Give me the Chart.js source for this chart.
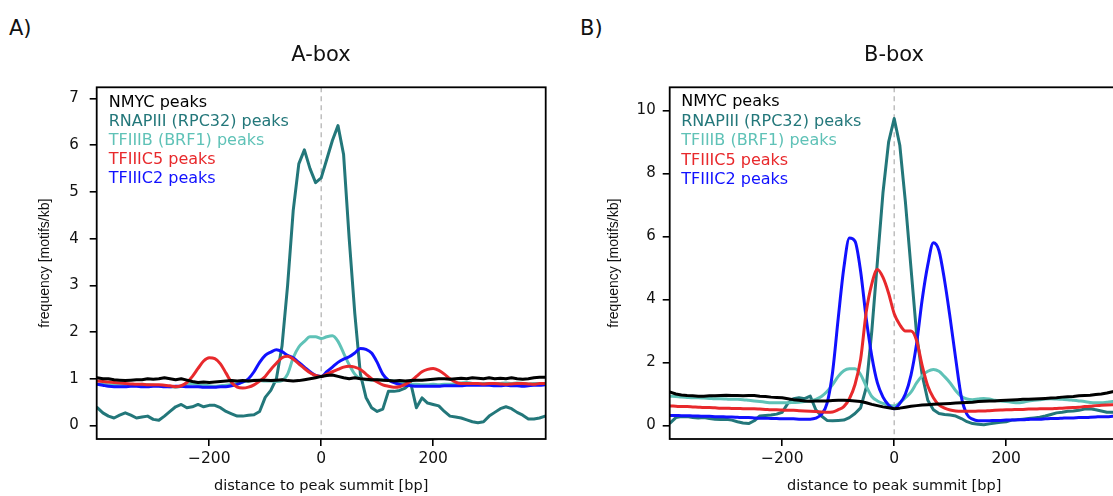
<!DOCTYPE html>
<html>
<head>
<meta charset="utf-8">
<script src="https://cdn.jsdelivr.net/npm/chart.js@4.4.1/dist/chart.umd.min.js"></script>
<style>
  html, body { margin: 0; padding: 0; background: #fff; overflow: hidden; width: 1113px; height: 496px; }
  .panel { position: absolute; top: 0; width: 642px; height: 496px; }
  .tag { position: absolute; font: 21px "DejaVu Sans", sans-serif; color: #111; line-height: 1; }
</style>
</head>
<body>
<div class="tag" style="left:9px;top:18px">A)</div>
<div class="tag" style="left:580px;top:18px">B)</div>
<div class="panel" style="left:0px"><canvas id="chartA" width="642" height="496"></canvas></div>
<div class="panel" style="left:573px"><canvas id="chartB" width="642" height="496"></canvas></div>

<script>
// distance to peak summit (bp), sampled every 10 bp
const positions = [
  -400,-390,-380,-370,-360,-350,-340,-330,-320,-310,-300,-290,-280,-270,-260,-250,-240,-230,-220,-210,
  -200,-190,-180,-170,-160,-150,-140,-130,-120,-110,-100,-90,-80,-70,-60,-50,-40,-30,-20,-10,
  0,10,20,30,40,50,60,70,80,90,100,110,120,130,140,150,160,170,180,190,
  200,210,220,230,240,250,260,270,280,290,300,310,320,330,340,350,360,370,380,390,400
];

const seriesNames = ['NMYC peaks', 'RNAPIII (RPC32) peaks', 'TFIIIB (BRF1) peaks', 'TFIIIC5 peaks', 'TFIIIC2 peaks'];
const seriesColors = ['#000000', '#23777a', '#5fc2b7', '#e8292c', '#1111ff'];

const xTicks = [-200, 0, 200];
const yTicksA = [0, 1, 2, 3, 4, 5, 6, 7];
const yTicksB = [0, 2, 4, 6, 8, 10];

// ---- A-box motif frequency (motifs/kb) ----
const nmycA = [
  1.02,1.00,1.00,0.98,0.97,0.96,0.97,0.98,0.98,1.00,0.99,1.00,1.02,1.00,0.98,1.00,0.97,0.94,0.92,0.93,
  0.92,0.93,0.94,0.95,0.96,0.95,0.96,0.95,0.96,0.97,0.97,0.96,0.97,0.98,0.96,0.95,0.96,0.98,1.00,1.02,
  1.05,1.07,1.08,1.05,1.02,1.00,1.02,1.00,0.99,0.98,0.98,0.97,0.96,0.95,0.96,0.95,0.96,0.97,0.97,0.98,
  0.99,1.00,1.00,0.99,1.00,1.01,1.00,1.02,1.01,1.00,1.02,1.00,1.01,1.00,1.02,1.00,0.99,1.00,1.02,1.03,1.03
];
const rnap3A = [
  0.38,0.27,0.20,0.16,0.22,0.27,0.22,0.16,0.18,0.20,0.13,0.11,0.20,0.30,0.40,0.45,0.38,0.40,0.45,0.40,
  0.43,0.43,0.38,0.30,0.25,0.20,0.20,0.22,0.23,0.30,0.60,0.75,1.00,1.70,3.00,4.60,5.60,5.90,5.50,5.20,
  5.30,5.70,6.10,6.42,5.80,4.00,2.40,1.10,0.60,0.38,0.30,0.35,0.73,0.73,0.75,0.80,0.90,0.38,0.59,0.48,
  0.45,0.42,0.30,0.20,0.18,0.16,0.12,0.08,0.06,0.08,0.20,0.28,0.36,0.40,0.36,0.28,0.22,0.14,0.14,0.16,0.20
];
const tf3bA = [
  0.88,0.88,0.87,0.87,0.88,0.87,0.86,0.87,0.88,0.87,0.86,0.85,0.84,0.83,0.82,0.84,0.88,0.90,0.88,0.86,
  0.85,0.84,0.85,0.86,0.88,0.90,0.93,0.95,0.97,0.96,0.95,0.95,0.94,0.96,1.10,1.45,1.68,1.80,1.90,1.90,
  1.86,1.90,1.92,1.80,1.55,1.30,1.10,1.00,0.98,0.97,0.98,0.98,0.97,0.95,0.92,0.90,0.88,0.88,0.87,0.87,
  0.88,0.87,0.88,0.88,0.90,0.91,0.92,0.90,0.89,0.90,0.90,0.89,0.90,0.91,0.90,0.91,0.90,0.89,0.90,0.90,0.90
];
const tf3c5A = [
  0.95,0.94,0.93,0.92,0.91,0.90,0.89,0.88,0.88,0.87,0.87,0.87,0.86,0.85,0.83,0.85,0.92,1.05,1.22,1.38,
  1.45,1.43,1.32,1.12,0.92,0.82,0.80,0.82,0.87,0.95,1.05,1.20,1.33,1.45,1.48,1.42,1.32,1.22,1.13,1.07,
  1.05,1.10,1.15,1.20,1.25,1.27,1.25,1.20,1.10,1.00,0.93,0.87,0.84,0.82,0.83,0.88,0.95,1.05,1.15,1.20,
  1.22,1.18,1.10,1.00,0.93,0.90,0.90,0.90,0.90,0.89,0.90,0.90,0.89,0.88,0.89,0.90,0.90,0.89,0.88,0.90,0.90
];
const tf3c2A = [
  0.88,0.86,0.84,0.83,0.83,0.83,0.84,0.84,0.83,0.83,0.84,0.84,0.83,0.83,0.84,0.84,0.83,0.83,0.83,0.82,
  0.82,0.82,0.83,0.83,0.85,0.88,0.93,1.00,1.15,1.35,1.50,1.57,1.62,1.58,1.50,1.45,1.35,1.25,1.15,1.07,
  1.05,1.15,1.25,1.35,1.42,1.47,1.55,1.65,1.63,1.55,1.35,1.10,0.97,0.92,0.88,0.86,0.85,0.84,0.84,0.84,
  0.84,0.84,0.85,0.85,0.85,0.85,0.86,0.86,0.86,0.86,0.86,0.85,0.85,0.86,0.85,0.85,0.84,0.85,0.86,0.86,0.87
];

// ---- B-box motif frequency (motifs/kb) ----
const nmycB = [
  1.06,1.00,0.97,0.95,0.94,0.93,0.93,0.94,0.94,0.95,0.96,0.95,0.95,0.94,0.95,0.95,0.93,0.92,0.90,0.89,
  0.88,0.85,0.82,0.80,0.78,0.77,0.78,0.78,0.78,0.79,0.80,0.80,0.79,0.78,0.76,0.72,0.67,0.63,0.59,0.56,
  0.53,0.55,0.58,0.61,0.63,0.65,0.66,0.67,0.68,0.69,0.70,0.71,0.72,0.73,0.74,0.76,0.77,0.78,0.78,0.79,
  0.80,0.81,0.82,0.83,0.83,0.84,0.85,0.86,0.87,0.88,0.90,0.91,0.92,0.94,0.95,0.96,0.98,1.00,1.03,1.07,1.10
];
const rnap3B = [
  0.08,0.25,0.28,0.28,0.25,0.24,0.25,0.22,0.20,0.19,0.20,0.17,0.12,0.08,0.06,0.15,0.30,0.32,0.33,0.36,
  0.42,0.70,0.85,0.88,0.85,0.93,0.50,0.30,0.16,0.15,0.16,0.17,0.25,0.38,0.56,1.20,3.00,5.20,7.40,9.00,
  9.75,8.90,7.10,5.00,2.90,1.60,0.80,0.50,0.38,0.35,0.33,0.30,0.22,0.12,0.06,0.04,0.02,0.05,0.08,0.10,
  0.12,0.17,0.18,0.20,0.22,0.24,0.26,0.30,0.35,0.40,0.42,0.45,0.46,0.48,0.52,0.53,0.50,0.46,0.42,0.42,0.40
];
const tf3bB = [
  0.93,0.92,0.90,0.89,0.88,0.88,0.87,0.86,0.85,0.85,0.84,0.83,0.83,0.82,0.80,0.78,0.76,0.74,0.72,0.72,
  0.72,0.72,0.73,0.74,0.76,0.78,0.83,0.92,1.08,1.30,1.56,1.74,1.80,1.80,1.62,1.25,0.92,0.78,0.70,0.64,
  0.62,0.72,0.88,1.06,1.35,1.58,1.72,1.78,1.72,1.55,1.35,1.10,0.92,0.84,0.82,0.84,0.86,0.84,0.80,0.78,
  0.76,0.74,0.72,0.74,0.78,0.80,0.82,0.84,0.85,0.84,0.83,0.82,0.80,0.78,0.76,0.73,0.72,0.72,0.74,0.76,0.77
];
const tf3c5B = [
  0.62,0.61,0.60,0.60,0.59,0.58,0.57,0.57,0.56,0.55,0.55,0.54,0.54,0.53,0.53,0.53,0.52,0.51,0.50,0.50,
  0.49,0.48,0.48,0.47,0.46,0.45,0.44,0.43,0.42,0.43,0.50,0.60,0.85,1.30,2.10,3.60,4.50,4.95,4.70,4.20,
  3.55,3.20,3.00,3.00,2.70,1.90,1.25,0.88,0.65,0.55,0.49,0.46,0.45,0.45,0.45,0.46,0.46,0.47,0.48,0.49,
  0.50,0.50,0.51,0.51,0.52,0.52,0.53,0.53,0.53,0.54,0.55,0.56,0.57,0.58,0.60,0.61,0.63,0.64,0.65,0.66,0.67
];
const tf3c2B = [
  0.32,0.32,0.31,0.31,0.30,0.30,0.29,0.29,0.28,0.28,0.27,0.27,0.26,0.25,0.25,0.24,0.23,0.23,0.22,0.22,
  0.21,0.21,0.21,0.20,0.20,0.20,0.23,0.35,0.70,1.70,3.40,5.00,5.95,5.85,4.90,3.40,2.20,1.35,0.90,0.65,
  0.53,0.70,1.00,1.60,2.60,4.00,5.10,5.80,5.55,4.60,3.40,2.10,0.90,0.35,0.20,0.15,0.15,0.15,0.16,0.16,
  0.17,0.17,0.18,0.18,0.19,0.20,0.20,0.21,0.22,0.22,0.23,0.24,0.24,0.25,0.25,0.26,0.27,0.28,0.28,0.29,0.30
];

const WIDE = '"DejaVu Sans", sans-serif';
const NARROW = '"Liberation Sans", Arial, sans-serif';
const smoothSeries = [false, false, true, true, true];
const drawOrder = [0, 4, 3, 1, 2];

function buildDatasets(seriesValues) {
  return seriesValues.map((vals, i) => ({
    label: seriesNames[i],
    data: positions.map((x, k) => ({ x: x, y: vals[k] })),
    borderColor: seriesColors[i],
    backgroundColor: seriesColors[i],
    borderWidth: 3,
    pointRadius: 0,
    fill: false,
    tension: smoothSeries[i] ? 0.4 : 0,
    cubicInterpolationMode: smoothSeries[i] ? 'monotone' : 'default',
    borderJoinStyle: 'round',
    borderCapStyle: 'round',
    order: drawOrder[i]
  }));
}

// dashed line at the peak summit, plot frame and coloured text legend
const summitLine = {
  id: 'summitLine',
  beforeDatasetsDraw(chart) {
    const { ctx, chartArea, scales } = chart;
    const x = scales.x.getPixelForValue(0);
    ctx.save();
    ctx.strokeStyle = '#b4b4b4';
    ctx.lineWidth = 1.3;
    ctx.setLineDash([5, 4]);
    ctx.beginPath();
    ctx.moveTo(x, chartArea.top);
    ctx.lineTo(x, chartArea.bottom);
    ctx.stroke();
    ctx.restore();
  }
};
const plotFrame = {
  id: 'plotFrame',
  afterDatasetsDraw(chart) {
    const { ctx, chartArea } = chart;
    ctx.save();
    ctx.strokeStyle = '#000';
    ctx.lineWidth = 1.8;
    ctx.strokeRect(chartArea.left, chartArea.top, chartArea.right - chartArea.left, chartArea.bottom - chartArea.top);
    ctx.restore();
  }
};
const textLegend = {
  id: 'textLegend',
  afterDatasetsDraw(chart, args, opts) {
    const { ctx, chartArea } = chart;
    ctx.save();
    ctx.font = opts.fontSize + 'px ' + WIDE;
    ctx.textBaseline = 'middle';
    ctx.textAlign = 'left';
    chart.data.datasets.forEach((ds, i) => {
      ctx.fillStyle = ds.borderColor;
      ctx.fillText(ds.label, chartArea.left + opts.dx, chartArea.top + opts.dy + i * opts.step);
    });
    ctx.restore();
  }
};

function makeChart(id, title, seriesValues, yMin, yMax, yTicks, tickPad, yTitleOffset, legendOpts) {
  return new Chart(document.getElementById(id), {
    type: 'line',
    data: { datasets: buildDatasets(seriesValues) },
    options: {
      responsive: false,
      animation: false,
      devicePixelRatio: 1,
      layout: { padding: 0 },
      plugins: {
        legend: { display: false },
        tooltip: { enabled: false },
        title: {
          display: true,
          text: title,
          color: '#111',
          font: { family: WIDE, size: 21, weight: 'normal', lineHeight: 1.2 },
          padding: { top: 42.6, bottom: 19.5 }
        },
        textLegend: legendOpts
      },
      scales: {
        x: {
          type: 'linear',
          min: -401,
          max: 401,
          afterBuildTicks(axis) { axis.ticks = xTicks.map(v => ({ value: v })); },
          afterFit(axis) { axis.height = 57; },
          ticks: {
            color: '#111',
            font: { family: WIDE, size: 15.5 },
            padding: 4,
            maxRotation: 0,
            autoSkip: false,
            callback: v => (v < 0 ? '\u2212' + Math.abs(v) : String(v))
          },
          grid: { display: true, drawOnChartArea: false, drawTicks: true, tickLength: 7, color: '#000', lineWidth: 1.6 },
          border: { display: false },
          title: {
            display: true,
            text: 'distance to peak summit [bp]',
            color: '#111',
            font: { family: WIDE, size: 14.5, lineHeight: 1.2 },
            padding: { top: 0, bottom: 1.5 }
          }
        },
        y: {
          type: 'linear',
          min: yMin,
          max: yMax,
          afterBuildTicks(axis) { axis.ticks = yTicks.map(v => ({ value: v })); },
          afterFit(axis) { axis.width = 96.7; },
          ticks: {
            color: '#111',
            font: { family: WIDE, size: 15 },
            padding: tickPad,
            autoSkip: false
          },
          grid: { display: true, drawOnChartArea: false, drawTicks: true, tickLength: 7, color: '#000', lineWidth: 1.6 },
          border: { display: false },
          title: {
            display: true,
            text: 'frequency [motifs/kb]',
            color: '#111',
            font: { family: NARROW, size: 14, lineHeight: 1.2 },
            padding: { top: yTitleOffset, bottom: 0 }
          }
        },
        // empty right margin so the panel title is centred over the plot
        margin: {
          type: 'linear',
          position: 'right',
          display: true,
          min: 0,
          max: 1,
          afterFit(axis) { axis.width = 96.3; },
          ticks: { display: false },
          grid: { display: false },
          border: { display: false },
          title: { display: false }
        }
      }
    },
    plugins: [summitLine, plotFrame, textLegend]
  });
}

makeChart('chartA', 'A-box', [nmycA, rnap3A, tf3bA, tf3c5A, tf3c2A], -0.29, 7.24, yTicksA, 11, 36.6,
  { fontSize: 16, dx: 12, dy: 15.2, step: 19.2 });
makeChart('chartB', 'B-box', [nmycB, rnap3B, tf3bB, tf3c5B, tf3c2B], -0.43, 10.74, yTicksB, 7, 32.5,
  { fontSize: 16, dx: 11.5, dy: 14.5, step: 19.6 });
</script>
</body>
</html>
